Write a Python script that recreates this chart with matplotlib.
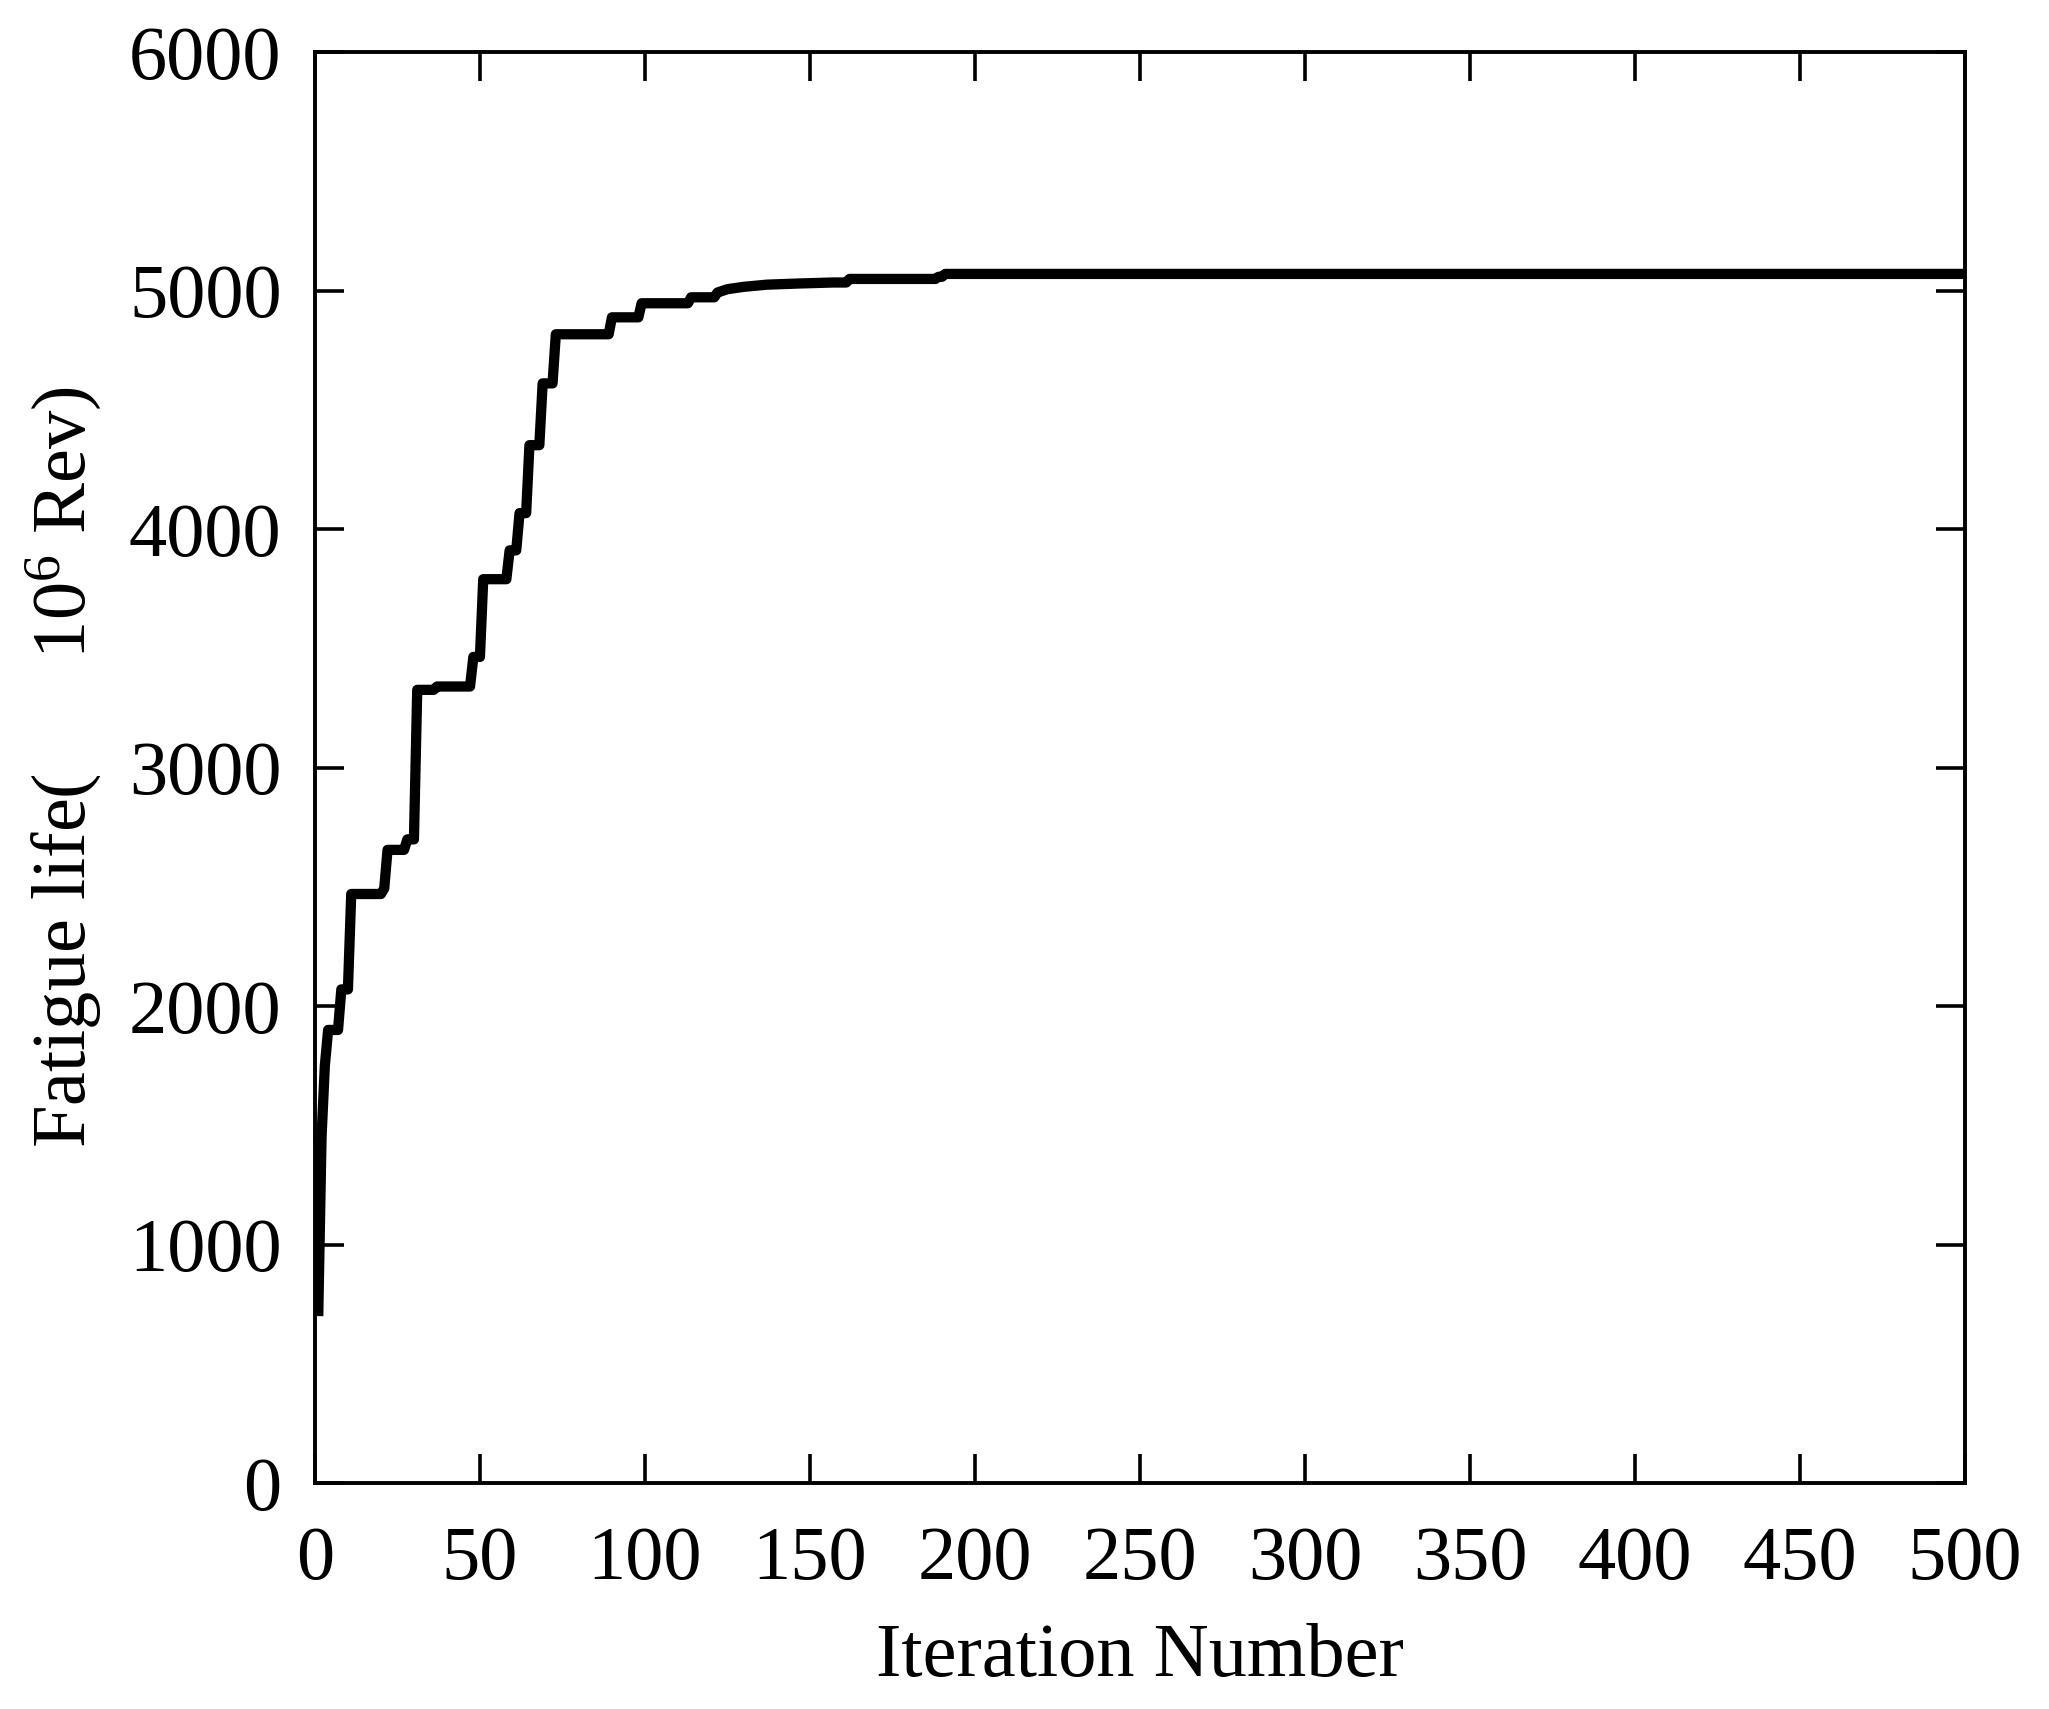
import matplotlib
matplotlib.use("Agg")
import matplotlib.pyplot as plt

# Data
iterations = [1, 2, 3, 4, 7, 8, 10, 11, 20, 21,
              22, 27, 28, 30, 31, 36, 37, 47, 48, 50,
              51, 58, 59, 61, 62, 64, 65, 68, 69, 72,
              73, 89, 90, 98, 99, 113, 114, 121, 122, 125,
              130, 137, 147, 157, 161, 162, 188, 189, 190, 191,
              500]
fatigue_life = [700, 1450, 1750, 1900, 1900, 2070, 2070, 2470, 2470, 2493,
                2655, 2655, 2699, 2699, 3326, 3326, 3340, 3340, 3464, 3464,
                3790, 3790, 3911, 3911, 4067, 4067, 4352, 4352, 4611, 4611,
                4817, 4817, 4888, 4888, 4947, 4947, 4972, 4972, 4992, 5006,
                5016, 5025, 5030, 5034, 5034, 5049, 5049, 5058, 5058, 5070,
                5070]
x_ticks = [0, 50, 100, 150, 200, 250, 300, 350, 400, 450, 500]
y_ticks = [0, 1000, 2000, 3000, 4000, 5000, 6000]

plt.rcParams['font.family'] = 'Liberation Serif'
plt.rcParams['mathtext.fontset'] = 'custom'
plt.rcParams['mathtext.rm'] = 'Liberation Serif'

fig = plt.figure(figsize=(20.49, 17.09), dpi=100)
ax = fig.add_axes([0.1537, 0.1322, 0.8053, 0.8373])

ax.plot(iterations, fatigue_life, color='black', linewidth=7.4, solid_capstyle='butt')

ax.set_xlim(0, 500)
ax.set_ylim(0, 6000)
ax.set_xticks(x_ticks)
ax.set_yticks(y_ticks)

ax.tick_params(direction='in', length=21, width=2.6, labelsize=55,
               top=True, right=True)
ax.tick_params(axis='x', pad=31)
ax.tick_params(axis='y', pad=24)

for s in ax.spines.values():
    s.set_linewidth(2.8)

ax.set_xlabel('Iteration Number', fontsize=55, labelpad=20)
ax.set_ylabel(r'Fatigue life(      $\mathregular{10^{6}}$ Rev)', fontsize=55, labelpad=19)

fig.savefig('out.png', dpi=100)
